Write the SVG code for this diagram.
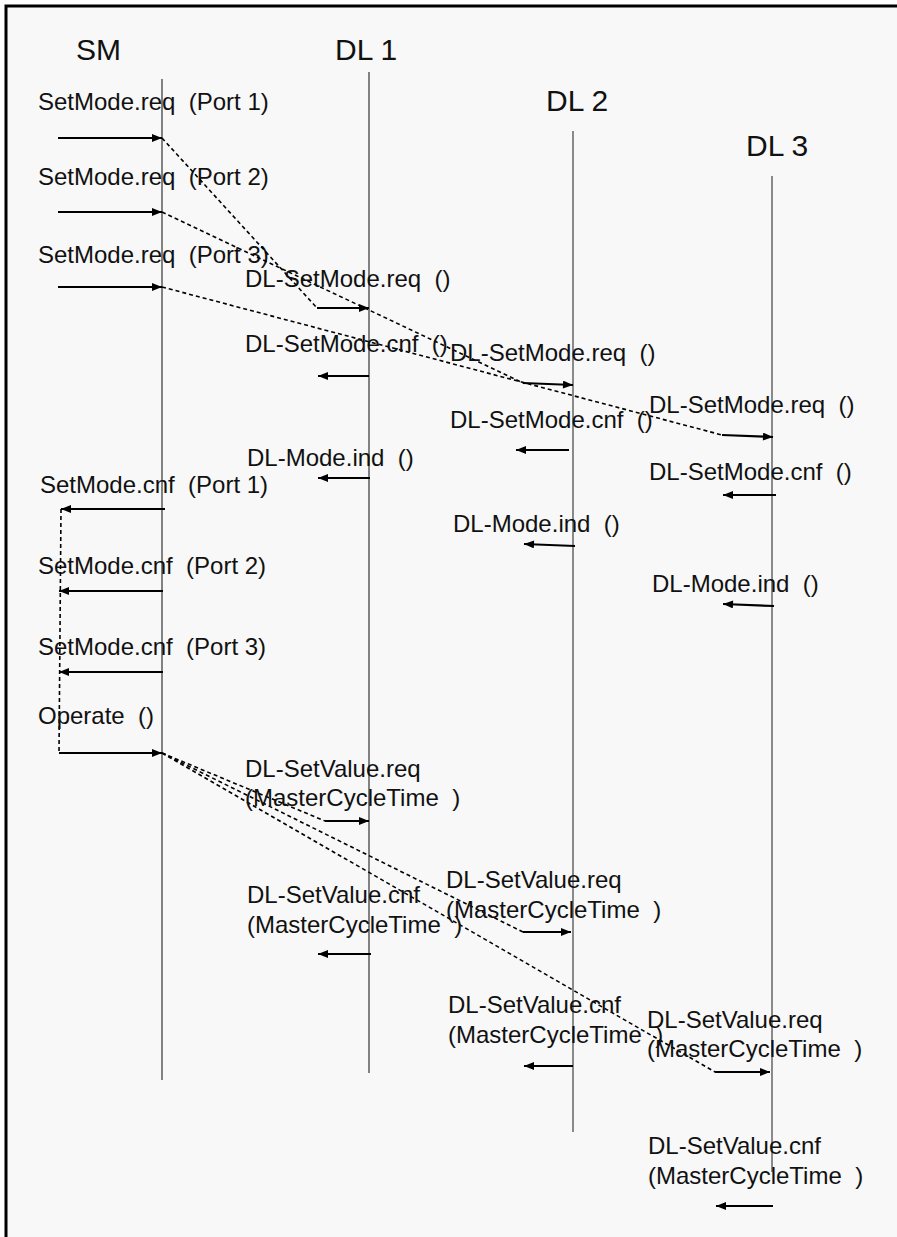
<svg xmlns="http://www.w3.org/2000/svg" width="897" height="1237" viewBox="0 0 897 1237">
  <style>
    .lbl { font-family: "Liberation Sans", Arial, sans-serif; font-size: 24px; fill: #111; }
    .hdr { font-family: "Liberation Sans", Arial, sans-serif; font-size: 30px; fill: #111; }
    .life { stroke: #333; stroke-width: 1.2; fill: none; }
    .life2 { stroke: #666; stroke-width: 1.5; fill: none; }
    .msg { stroke: #000; stroke-width: 2.2; fill: none; marker-end: url(#head); }
    .dash { stroke: #000; stroke-width: 1.6; stroke-dasharray: 4 3; fill: none; }
  </style>
  <defs>
    <marker id="head" viewBox="0 0 10 8" refX="10" refY="4" markerWidth="11" markerHeight="8" markerUnits="userSpaceOnUse" orient="auto">
      <path d="M0,0 L10,4 L0,8 z" fill="#000"/>
    </marker>
  </defs>

  <!-- page and frame -->
  <rect x="0" y="0" width="897" height="1237" fill="#ffffff"/>
  <rect x="6" y="6" width="1000" height="1300" fill="#f8f8f8" stroke="#000" stroke-width="3"/>

  <!-- lifelines -->
  <g id="sm">
    <text class="hdr" x="76" y="60">SM</text>
    <line class="life" x1="162" y1="79" x2="162" y2="1080"/>
  </g>
  <g id="dl1">
    <text class="hdr" x="335" y="60">DL 1</text>
    <line class="life" x1="369" y1="72" x2="369" y2="1073"/>
  </g>
  <g id="dl2">
    <text class="hdr" x="546" y="111">DL 2</text>
    <line class="life2" x1="573" y1="131" x2="573" y2="1132"/>
  </g>
  <g id="dl3">
    <text class="hdr" x="746" y="156">DL 3</text>
    <line class="life2" x1="772" y1="176" x2="772" y2="1172"/>
  </g>

  <!-- messages -->
  <g id="connectors">
    <!-- SetMode requests into SM -->
    <text class="lbl" x="38" y="110">SetMode.req &#160;(Port 1)</text>
    <line class="msg" x1="58" y1="138" x2="162" y2="138"/>
    <text class="lbl" x="38" y="185">SetMode.req &#160;(Port 2)</text>
    <line class="msg" x1="58" y1="212" x2="162" y2="212"/>
    <text class="lbl" x="38" y="263">SetMode.req &#160;(Port 3)</text>
    <line class="msg" x1="58" y1="287" x2="162" y2="287"/>

    <!-- forwarding to the DL instances -->
    <line class="dash" x1="162" y1="138" x2="317" y2="308"/>
    <line class="dash" x1="162" y1="212" x2="523" y2="383"/>
    <line class="dash" x1="162" y1="287" x2="722" y2="435"/>

    <!-- DL 1 -->
    <text class="lbl" x="245" y="287">DL-SetMode.req &#160;()</text>
    <line class="msg" x1="317" y1="308" x2="369" y2="308"/>
    <text class="lbl" x="245" y="352">DL-SetMode.cnf &#160;()</text>
    <line class="msg" x1="369" y1="376" x2="318" y2="376"/>
    <text class="lbl" x="247" y="466">DL-Mode.ind &#160;()</text>
    <line class="msg" x1="370" y1="478" x2="318" y2="478"/>

    <!-- DL 2 -->
    <text class="lbl" x="450" y="361">DL-SetMode.req &#160;()</text>
    <line class="msg" x1="523" y1="383" x2="573" y2="385"/>
    <text class="lbl" x="450" y="428">DL-SetMode.cnf &#160;()</text>
    <line class="msg" x1="569" y1="450" x2="516" y2="450"/>
    <text class="lbl" x="453" y="532">DL-Mode.ind &#160;()</text>
    <line class="msg" x1="575" y1="546" x2="524" y2="544"/>

    <!-- DL 3 -->
    <text class="lbl" x="649" y="413">DL-SetMode.req &#160;()</text>
    <line class="msg" x1="722" y1="435" x2="773" y2="437"/>
    <text class="lbl" x="649" y="480">DL-SetMode.cnf &#160;()</text>
    <line class="msg" x1="776" y1="495" x2="723" y2="495"/>
    <text class="lbl" x="652" y="592">DL-Mode.ind &#160;()</text>
    <line class="msg" x1="774" y1="606" x2="723" y2="604"/>

    <!-- SetMode confirmations from SM -->
    <text class="lbl" x="40" y="493">SetMode.cnf &#160;(Port 1)</text>
    <line class="msg" x1="165" y1="509" x2="61" y2="509"/>
    <text class="lbl" x="38" y="574">SetMode.cnf &#160;(Port 2)</text>
    <line class="msg" x1="163" y1="591" x2="59" y2="591"/>
    <text class="lbl" x="38" y="655">SetMode.cnf &#160;(Port 3)</text>
    <line class="msg" x1="163" y1="672" x2="59" y2="672"/>

    <!-- Operate -->
    <line class="dash" x1="61" y1="509" x2="59" y2="753"/>
    <text class="lbl" x="38" y="724">Operate &#160;()</text>
    <line class="msg" x1="59" y1="753" x2="162" y2="753"/>

    <line class="dash" x1="162" y1="753" x2="325" y2="821"/>
    <line class="dash" x1="162" y1="753" x2="523" y2="932"/>
    <line class="dash" x1="162" y1="753" x2="715" y2="1072"/>

    <!-- SetValue on DL 1 -->
    <text class="lbl" x="245" y="777">DL-SetValue.req</text>
    <text class="lbl" x="245" y="806">(MasterCycleTime &#160;)</text>
    <line class="msg" x1="325" y1="821" x2="369" y2="821"/>
    <text class="lbl" x="247" y="903">DL-SetValue.cnf</text>
    <text class="lbl" x="247" y="933">(MasterCycleTime &#160;)</text>
    <line class="msg" x1="371" y1="954" x2="318" y2="954"/>

    <!-- SetValue on DL 2 -->
    <text class="lbl" x="446" y="888">DL-SetValue.req</text>
    <text class="lbl" x="446" y="918">(MasterCycleTime &#160;)</text>
    <line class="msg" x1="523" y1="932" x2="571" y2="932"/>
    <text class="lbl" x="448" y="1013">DL-SetValue.cnf</text>
    <text class="lbl" x="448" y="1043">(MasterCycleTime &#160;)</text>
    <line class="msg" x1="573" y1="1066" x2="524" y2="1066"/>

    <!-- SetValue on DL 3 -->
    <text class="lbl" x="647" y="1028">DL-SetValue.req</text>
    <text class="lbl" x="647" y="1057">(MasterCycleTime &#160;)</text>
    <line class="msg" x1="715" y1="1072" x2="770" y2="1072"/>
    <text class="lbl" x="648" y="1154">DL-SetValue.cnf</text>
    <text class="lbl" x="648" y="1184">(MasterCycleTime &#160;)</text>
    <line class="msg" x1="773" y1="1206" x2="716" y2="1206"/>
  </g>
</svg>
